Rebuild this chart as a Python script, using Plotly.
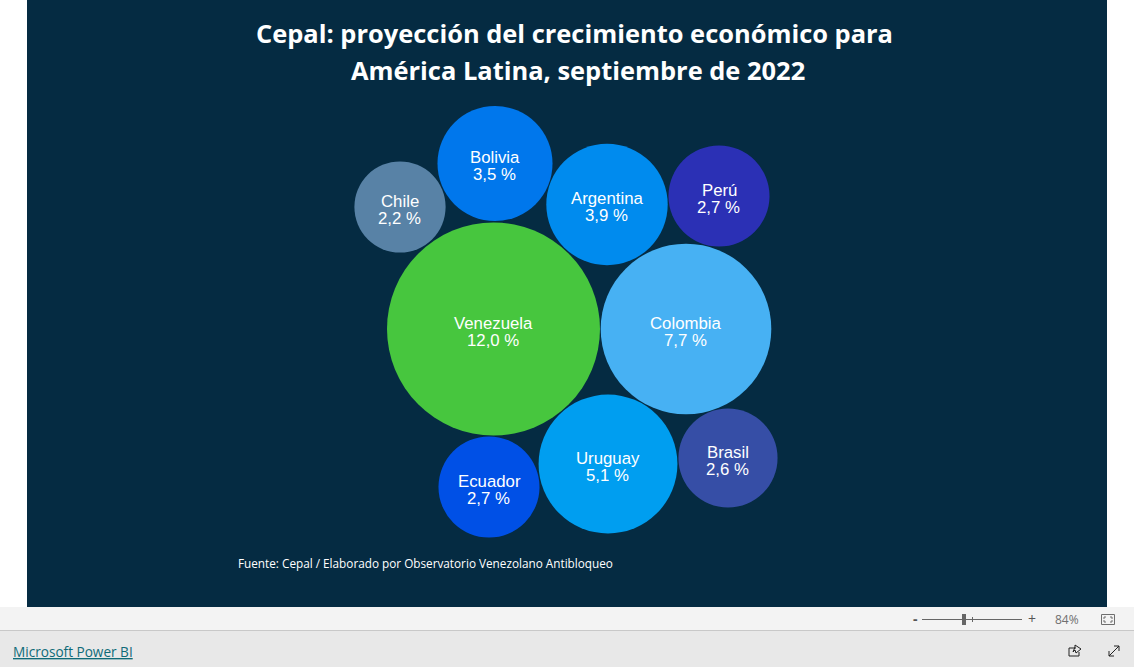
# plot.py
# Cepal growth projections as a packed bubble chart, inside the Power BI embed frame.

import plotly.graph_objects as go

TITLE_LINES = ["Cepal: proyección del crecimiento económico para", "América Latina, septiembre de 2022"]
SOURCE = "Fuente: Cepal / Elaborado por Observatorio Venezolano Antibloqueo"

countries = ["Venezuela", "Colombia", "Uruguay", "Argentina", "Bolivia", "Perú", "Ecuador", "Brasil", "Chile"]
growth = [12.0, 7.7, 5.1, 3.9, 3.5, 2.7, 2.7, 2.6, 2.2]
growth_labels = ["12,0 %", "7,7 %", "5,1 %", "3,9 %", "3,5 %", "2,7 %", "2,7 %", "2,6 %", "2,2 %"]

# bubble packing centres, in screen pixels
center_x = [493.5, 686, 608, 607, 495, 719, 489, 728, 400]
center_y = [329, 329, 464, 204.5, 163.5, 196, 487, 458, 207]
colors = ["#47C63E", "#47B1F3", "#009EF0", "#008BEE", "#0077EC", "#2B30B5", "#0050E6", "#364EA6", "#5882A6"]

fig = go.Figure()

fig.add_trace(go.Scatter(
    x=center_x,
    y=center_y,
    mode="markers",
    marker=dict(size=growth, sizemode="area", sizeref=0.000529, color=colors, opacity=1, line=dict(width=0)),
    customdata=growth_labels,
    text=countries,
    hovertemplate="%{text}: %{customdata}<extra></extra>",
    showlegend=False,
))

for name, label, x, y in zip(countries, growth_labels, center_x, center_y):
    fig.add_annotation(x=x, y=y - 6, text=name, showarrow=False, font=dict(family="Liberation Sans", size=16.8, color="white"))
    fig.add_annotation(x=x - 0.5, y=y + 11, text=label, showarrow=False, font=dict(family="Liberation Sans", size=16.8, color="white"))

for line, x, y in zip(TITLE_LINES, [574, 578], [33, 70]):
    fig.add_annotation(x=x, y=y - 0.5, text=line, showarrow=False,
                       font=dict(family="Open Sans", size=25.45, color="white", weight=700))
fig.add_annotation(x=236, y=563, xanchor="left", text=SOURCE, showarrow=False,
                   font=dict(family="Open Sans", size=11.75, color="white"))
fig.add_annotation(x=11, y=651, xanchor="left", text="<u>Microsoft Power BI</u>", showarrow=False,
                   font=dict(family="Open Sans", size=13.6, color="#0F6B78"))
fig.add_annotation(x=1066.5, y=619, text="84%", showarrow=False,
                   font=dict(family="Open Sans", size=12, color="#707070"))
fig.add_annotation(x=915, y=618, text="<b>-</b>", showarrow=False, font=dict(family="Open Sans", size=14, color="#555555"))
fig.add_annotation(x=1032, y=618, text="+", showarrow=False, font=dict(family="Open Sans", size=14, color="#555555"))

shapes = [
    dict(type="rect", x0=27, x1=1107, y0=0, y1=607, fillcolor="#052B42", line_width=0),
    dict(type="rect", x0=0, x1=1134, y0=607, y1=630, fillcolor="#F3F3F3", line_width=0),
    dict(type="rect", x0=0, x1=1134, y0=630, y1=631, fillcolor="#C8C8C8", line_width=0),
    dict(type="rect", x0=0, x1=1134, y0=631, y1=667, fillcolor="#E8E8E8", line_width=0),
    # zoom slider
    dict(type="rect", x0=922, x1=1022, y0=619, y1=620, fillcolor="#666666", line_width=0),
    dict(type="rect", x0=962, x1=966, y0=614, y1=625, fillcolor="#666666", line_width=0),
    dict(type="rect", x0=972, x1=973, y0=617, y1=622, fillcolor="#666666", line_width=0),
    # fit to page icon
    dict(type="rect", x0=1101.5, x1=1114.5, y0=614.5, y1=624.5, line=dict(color="#6E6E6E", width=1)),
    dict(type="path", path="M 1104 619 L 1104 617 L 1106 617 M 1110 617 L 1112 617 L 1112 619 M 1112 620 L 1112 622 L 1110 622 M 1106 622 L 1104 622 L 1104 620",
         line=dict(color="#6E6E6E", width=1)),
    # share icon
    dict(type="path", path="M 1076 648 L 1069 648 L 1069 656 L 1079 656 L 1079 652", line=dict(color="#222222", width=1)),
    dict(type="path", path="M 1073 652 L 1075 647 L 1075 645 L 1081 649 L 1076 653 L 1075 650 Z", line=dict(color="#222222", width=1)),
    # fullscreen icon
    dict(type="path", path="M 1109 656 L 1119 646 M 1114 646 L 1119 646 L 1119 651 M 1109 651 L 1109 656 L 1114 656",
         line=dict(color="#222222", width=1)),
]

fig.update_layout(
    width=1134,
    height=667,
    margin=dict(l=0, r=0, t=0, b=0),
    paper_bgcolor="white",
    plot_bgcolor="white",
    shapes=[dict(s, layer="below") for s in shapes],
    xaxis=dict(range=[0, 1134], visible=False, fixedrange=True),
    yaxis=dict(range=[667, 0], visible=False, fixedrange=True),
)

fig.write_html("out.html", config={"displayModeBar": False},
               post_script="document.body.style.margin='0';document.body.style.overflow='hidden';")
